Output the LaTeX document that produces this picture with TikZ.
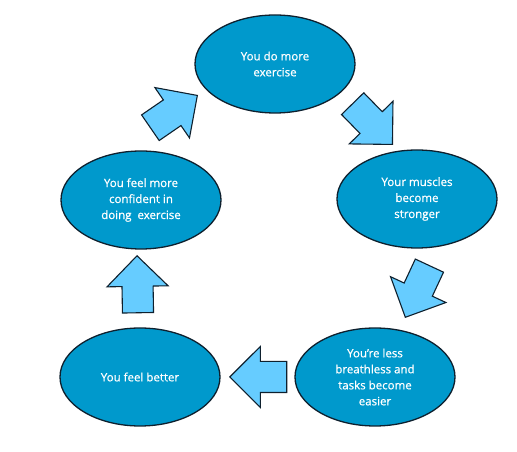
\documentclass[tikz,border=0pt]{standalone}
\usepackage{fontspec}
\setmainfont{Open Sans}
\newfontfamily\stepfont{Open Sans}[FakeBold=0.7]
\usetikzlibrary{shapes.geometric,shapes.arrows}
\definecolor{bubblefill}{RGB}{0,153,204}
\definecolor{pointerfill}{RGB}{102,204,255}
\definecolor{rim}{RGB}{14,32,46}
\begin{document}
\begin{tikzpicture}[x=1pt,y=1pt,
  bubble/.style={ellipse,draw=rim,line width=1.3pt,fill=bubblefill,
    minimum width=160pt,minimum height=98pt,inner sep=0pt,
    text=white,align=center,font=\stepfont\fontsize{11.5}{16}\selectfont},
  pointer/.style={single arrow,draw=rim,line width=1.1pt,fill=pointerfill,
    minimum height=57pt,inner xsep=0pt,inner ysep=15pt,
    single arrow head extend=15pt,anchor=tip}]
  \useasboundingbox (0,0) rectangle (517,452);

  %%%%%%%%%%%%%The five steps%%%%%%%%%%%%%%%%%%%%%%
  \node[bubble] (exercise) at (275,388) {You do more\\exercise};
  \node[bubble] (muscles) at (417,253) {Your muscles\\become\\stronger};
  \node[bubble] (breath) at (375,75) {You’re less\\breathless and\\tasks become\\easier};
  \node[bubble] (better) at (140,75) {You feel better};
  \node[bubble] (confident) at (141,252) {You feel more\\confident in\\doing\ \ exercise};

  %%%%%%%%%%%%%The arrows in between%%%%%%%%%%%%%%%%
  \node[pointer,rotate=-45.7] (exToMu) at (393,307) {};
  \node[pointer,rotate=245] (muToBr) at (405,134) {};
  \node[pointer,rotate=180] (brToBe) at (229,75) {};
  \node[pointer,rotate=91] (beToCo) at (137,197) {};
  \node[pointer,rotate=34.5] (coToEx) at (198,357) {};
\end{tikzpicture}
\end{document}
